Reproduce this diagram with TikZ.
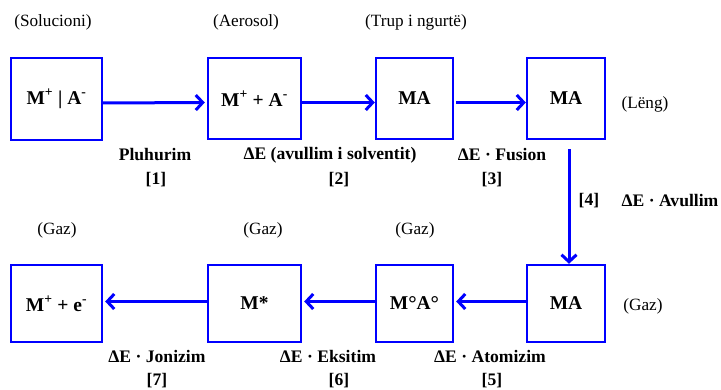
\documentclass[tikz,border=0pt]{standalone}
\usepackage{fontspec}
\setmainfont{Liberation Serif}
\usetikzlibrary{arrows.meta}
\definecolor{pblue}{RGB}{0,0,255}
\newcommand{\bigdeg}{\raisebox{-0.5pt}{\fontsize{21}{21}\selectfont °}}
\begin{document}
\begin{tikzpicture}[x=1pt,y=-1pt,
  box/.style={draw=pblue,line width=2.4pt,inner sep=0pt,font=\fontsize{19.5}{21}\selectfont\bfseries},
  lab/.style={inner sep=0pt,font=\fontsize{17.2}{19}\selectfont},
  blab/.style={inner sep=0pt,font=\fontsize{17.6}{19}\selectfont\bfseries},
  arr/.style={draw=pblue,line width=3pt,-{Straight Barb[length=7pt,width=15pt,line width=3pt]}}]
\useasboundingbox (0,0) rectangle (721,390);
% top row
\node[box,minimum width=91pt,minimum height=82pt] (b1) at (56.5,99) {M\textsuperscript{+} | A\textsuperscript{-}};
\node[box,minimum width=93pt,minimum height=81pt] (b2) at (254.5,98.5) {M\textsuperscript{+} + A\textsuperscript{-}};
\node[box,minimum width=77pt,minimum height=81pt] (b3) at (414.5,98.5) {MA};
\node[box,minimum width=78pt,minimum height=81pt] (b4) at (566,98.5) {MA};
% bottom row
\node[box,minimum width=91pt,minimum height=77pt] (c1) at (56.5,303.5) {M\textsuperscript{+} + e\textsuperscript{-}};
\node[box,minimum width=93pt,minimum height=77pt] (c2) at (254.5,303.5) {M*};
\node[box,minimum width=77pt,minimum height=77pt] (c3) at (414.5,303.5) {M\bigdeg A\bigdeg};
\node[box,minimum width=78pt,minimum height=77pt] (c4) at (566,303.5) {MA};
% arrows
\draw[arr,shorten >=2pt] ([yshift=-4pt]b1.east) -- ([yshift=-4pt]b2.west);
\draw[arr] ([yshift=-4pt]b2.east) -- ([yshift=-4pt]b3.west);
\draw[arr,shorten <=2pt] ([yshift=-4pt]b3.east) -- ([yshift=-4pt]b4.west);
\draw[arr,shorten <=9pt] ([xshift=3pt]b4.south) -- ([xshift=3pt]c4.north);
\draw[arr,shorten >=2pt] ([yshift=2pt]c4.west) -- ([yshift=2pt]c3.east);
\draw[arr,shorten >=2pt] ([yshift=2pt]c3.west) -- ([yshift=2pt]c2.east);
\draw[arr,shorten >=2pt] ([yshift=2pt]c2.west) -- ([yshift=2pt]c1.east);
% state labels
\node[lab] (s1) at (53,22) {(Solucioni)};
\node[lab] (s2) at (246,22) {(Aerosol)};
\node[lab] (s3) at (416,22) {(Trup i ngurtë)};
\node[lab] (s4) at (645,104) {(Lëng)};
\node[lab] (g1) at (57,230) {(Gaz)};
\node[lab] (g2) at (263,230) {(Gaz)};
\node[lab] (g3) at (415,230) {(Gaz)};
\node[lab] (g4) at (643,306) {(Gaz)};
% process labels
\node[blab] (p1) at (155,155) {Pluhurim};
\node[blab] (n1) at (156,180) {[1]};
\node[blab] (p2) at (330,155) {ΔE (avullim i solventit)};
\node[blab] (n2) at (339,180) {[2]};
\node[blab] (p3) at (502,155) {ΔE · Fusion};
\node[blab] (n3) at (492,180) {[3]};
\node[blab] (n4) at (589,201) {[4]};
\node[blab] (p4) at (670,201) {ΔE · Avullim};
\node[blab] (p7) at (157,356) {ΔE · Jonizim};
\node[blab] (n7) at (157,381) {[7]};
\node[blab] (p6) at (328,356) {ΔE · Eksitim};
\node[blab] (n6) at (339,381) {[6]};
\node[blab] (p5) at (490,356) {ΔE · Atomizim};
\node[blab] (n5) at (492,381) {[5]};
\end{tikzpicture}
\end{document}
